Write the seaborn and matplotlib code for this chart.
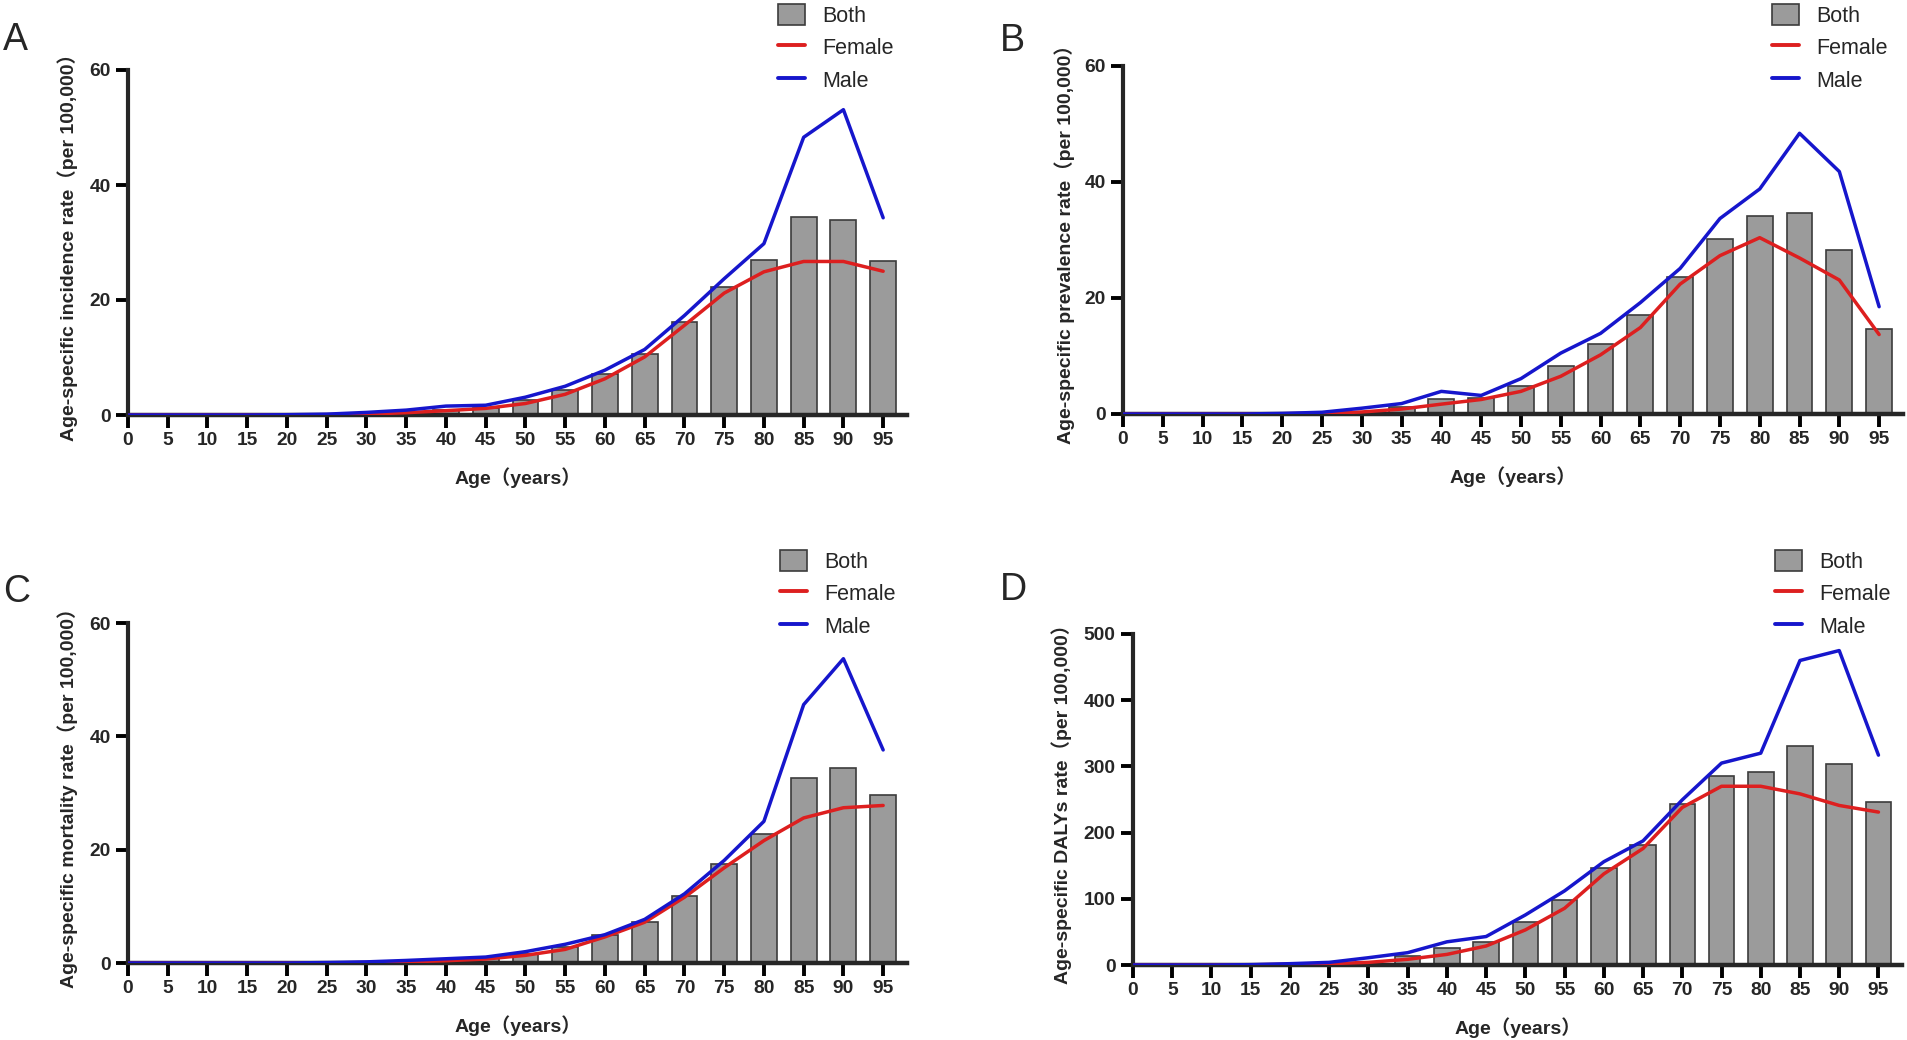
import numpy as np
import pandas as pd
import matplotlib
matplotlib.use("Agg")
import matplotlib.pyplot as plt
import seaborn as sns
from matplotlib.patches import Patch
from matplotlib.lines import Line2D

# ---------------- data ----------------
ages = [0, 5, 10, 15, 20, 25, 30, 35, 40, 45, 50, 55, 60, 65, 70, 75, 80, 85, 90, 95]

inc_both   = [0, 0, 0, 0, 0.02, 0.1, 0.2, 0.4, 0.8, 1.2, 2.6, 4.4, 7.1, 10.6, 16.1, 22.2, 27.0, 34.5, 34.0, 26.8]
inc_female = [0, 0, 0, 0, 0.02, 0.05, 0.15, 0.4, 0.75, 1.15, 2.0, 3.6, 6.3, 10.1, 15.6, 21.2, 24.9, 26.7, 26.7, 25.0]
inc_male   = [0, 0, 0, 0, 0.05, 0.15, 0.45, 0.85, 1.55, 1.7, 3.1, 5.0, 7.8, 11.4, 17.3, 23.7, 29.8, 48.3, 53.1, 34.3]

prev_both   = [0, 0, 0, 0, 0.05, 0.15, 0.4, 1.2, 2.6, 2.75, 4.9, 8.3, 12.0, 17.0, 23.7, 30.2, 34.1, 34.7, 28.2, 14.7]
prev_female = [0, 0, 0, 0, 0.05, 0.1, 0.35, 0.85, 1.7, 2.5, 3.9, 6.5, 10.2, 14.9, 22.4, 27.3, 30.4, 26.9, 23.1, 13.7]
prev_male   = [0, 0, 0, 0, 0.1, 0.3, 1.0, 1.8, 3.9, 3.2, 6.1, 10.5, 13.9, 19.2, 25.1, 33.7, 38.8, 48.4, 41.8, 18.5]

mort_both   = [0, 0, 0, 0, 0, 0.02, 0.1, 0.25, 0.5, 0.9, 1.6, 2.8, 4.9, 7.2, 11.9, 17.5, 22.8, 32.7, 34.5, 29.6]
mort_female = [0, 0, 0, 0, 0, 0.02, 0.08, 0.2, 0.4, 0.7, 1.35, 2.4, 4.6, 7.2, 11.6, 16.8, 21.6, 25.6, 27.4, 27.8]
mort_male   = [0, 0, 0, 0, 0, 0.08, 0.2, 0.45, 0.75, 1.05, 2.0, 3.3, 5.0, 7.7, 12.2, 18.1, 25.0, 45.6, 53.7, 37.6]

daly_both   = [0, 0, 0, 0.3, 0.8, 2, 5, 13.6, 25, 35, 64.5, 98, 146, 182, 243, 285, 291, 331, 304, 246]
daly_female = [0, 0, 0, 0.3, 1, 2, 4, 8.6, 16, 28.7, 53, 85.7, 137.6, 176, 238, 270, 270, 258.5, 241, 231]
daly_male   = [0, 0, 0, 0.5, 2, 4, 11, 18.6, 35, 43, 75.6, 112, 156, 187.5, 249.5, 305, 320, 460, 475, 317]

panel_letters = ["A", "B", "C", "D"]
ylabels = [
    "Age-specific incidence rate（per 100,000）",
    "Age-specific prevalence rate（per 100,000）",
    "Age-specific mortality rate（per 100,000）",
    "Age-specific DALYs rate（per 100,000）",
]
xlabel = "Age（years）"
legend_labels = ["Both", "Female", "Male"]
yticks_small = [0, 20, 40, 60]
yticks_daly = [0, 100, 200, 300, 400, 500]

# ---------------- style ----------------
sns.set_theme(style="ticks")
plt.rcParams["font.family"] = ["Liberation Sans", "Noto Sans CJK SC", "DejaVu Sans"]
plt.rcParams["axes.linewidth"] = 3.0

W, H = 1907, 1040
fig = plt.figure(figsize=(W / 100, H / 100), dpi=100)

BAR_C = "#9b9b9b"
BAR_E = "#3c3c3c"
RED = "#dd1f1f"
BLUE = "#1616cc"

# axes rectangles in pixel coords: left, top, right(ax end), bottom
rects = [
    (128, 70, 907, 415),
    (1123, 66, 1903, 414),
    (128, 623, 907, 963),
    (1133, 634, 1902, 965),
]
datasets = [
    (inc_both, inc_female, inc_male, yticks_small),
    (prev_both, prev_female, prev_male, yticks_small),
    (mort_both, mort_female, mort_male, yticks_small),
    (daly_both, daly_female, daly_male, yticks_daly),
]
letter_pos = [(3, 22), (1000, 23), (3, 574), (1000, 572)]
legend_pos = [(774, 0), (1768, 0), (776, 546), (1771, 546)]
ylabel_x = [78, 1075, 78, 1072]

for i, (rect, data) in enumerate(zip(rects, datasets)):
    l, t, r, b = rect
    ax = fig.add_axes([l / W, 1 - b / H, (r - l) / W, (b - t) / H])
    both, female, male, yt = data
    df = pd.DataFrame({"age": ages, "Both": both, "Female": female, "Male": male})
    sns.barplot(data=df, x="age", y="Both", native_scale=True, width=0.65,
                color=BAR_C, saturation=1, edgecolor=BAR_E, linewidth=1.2, ax=ax, zorder=2)
    sns.lineplot(data=df, x="age", y="Female", color=RED, linewidth=2.5, ax=ax, zorder=3)
    sns.lineplot(data=df, x="age", y="Male", color=BLUE, linewidth=2.5, ax=ax, zorder=3)

    ax.set_xlim(0, 98)
    ax.set_ylim(yt[0], yt[-1])
    ax.set_xticks(ages)
    ax.set_xticklabels([str(a) for a in ages])
    ax.set_yticks(yt)
    ax.set_yticklabels([str(v) for v in yt])
    sns.despine(ax=ax)
    ax.spines["left"].set_linewidth(3.0)
    ax.spines["bottom"].set_linewidth(3.2)
    ax.tick_params(axis="both", direction="out", length=9, width=2.8, color="black",
                   labelsize=13.8, pad=3.5)
    for lab in ax.get_xticklabels() + ax.get_yticklabels():
        lab.set_fontweight("bold")
    ax.set_xlabel(xlabel, fontsize=14, fontweight="bold")
    ax.set_ylabel(ylabels[i], fontsize=14, fontweight="bold")
    ax.xaxis.set_label_coords(0.5, -52 / (b - t))
    ax.xaxis.label.set_va("top")
    ax.yaxis.set_label_coords((ylabel_x[i] - l) / (r - l), 0.5)
    ax.set_facecolor("white")

    fig.text(letter_pos[i][0] / W, 1 - letter_pos[i][1] / H, panel_letters[i],
             fontsize=27, ha="left", va="top")

    handles = [
        Patch(facecolor=BAR_C, edgecolor=BAR_E, linewidth=1.2),
        Line2D([], [], color=RED, linewidth=2.8),
        Line2D([], [], color=BLUE, linewidth=2.8),
    ]
    fig.legend(handles, legend_labels, loc="upper left",
               bbox_to_anchor=(legend_pos[i][0] / W, 1 - legend_pos[i][1] / H),
               frameon=False, fontsize=15.5, handlelength=1.25, handleheight=1.1,
               handletextpad=0.8, labelspacing=0.45, borderpad=0.2, borderaxespad=0)

fig.savefig("out.png", dpi=100, facecolor="white")
